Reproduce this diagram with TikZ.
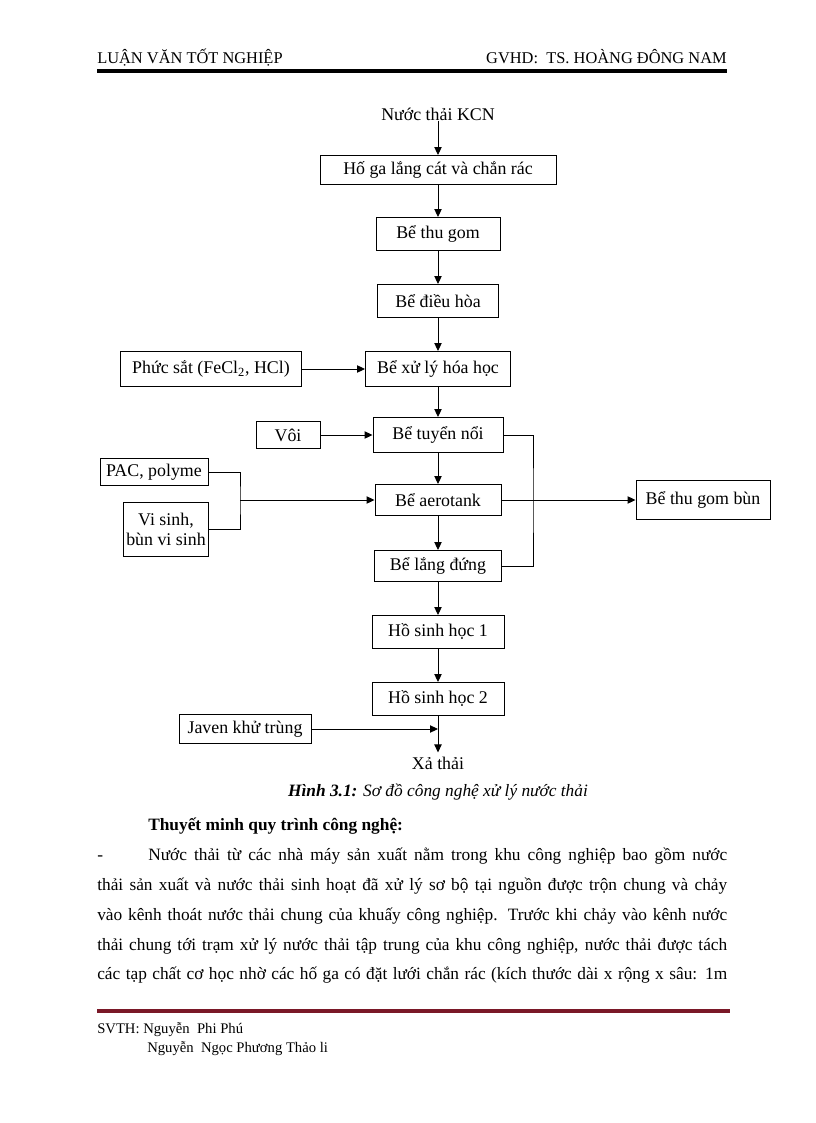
\documentclass[tikz,border=0pt]{standalone}
\usepackage{fontspec}
\setmainfont{Liberation Serif}
\usetikzlibrary{arrows.meta}

\definecolor{footred}{RGB}{122,24,40}

\begin{document}
\begin{tikzpicture}[x=0.75pt, y=-0.75pt,
    wh/.style 2 args={minimum width=#1*0.75pt, minimum height=#2*0.75pt},
    box/.style={draw, line width=0.7pt, inner sep=2pt, align=center,
        font=\fontsize{13.4}{15}\selectfont},
    txt/.style={inner sep=0pt, font=\fontsize{13.4}{15}\selectfont},
    body/.style={anchor=base west, inner sep=0pt, font=\fontsize{13}{15}\selectfont},
    flow/.style={line width=0.7pt, -{Triangle[length=6pt, width=5.5pt]}},
    link/.style={line width=0.7pt}]
    \useasboundingbox (0,0) rectangle (816,1123);

    % header
    \node [anchor=base west, inner sep=0pt, font=\fontsize{12.3}{14}\selectfont] (luanvan) at (97,64) {LUẬN VĂN TỐT NGHIỆP};
    \node [anchor=base east, inner sep=0pt, font=\fontsize{12.3}{14}\selectfont] (gvhd) at (727,64) {GVHD:\ \ TS. HOÀNG ĐÔNG NAM};
    \draw [line width=3pt] (97,71) -- (727,71);

    % main line
    \node [txt] (nguon) at (438,114) {Nước thải KCN};
    \node [box, wh={236}{29}] (hoga) at (438,170) {Hố ga lắng cát và chắn rác};
    \node [box, wh={124}{33}] (thugom) at (438,234) {Bể thu gom};
    \node [box, wh={121}{33}] (dieuhoa) at (438,301) {Bể điều hòa};
    \node [box, wh={145}{35}] (hoahoc) at (438,369) {Bể xử lý hóa học};
    \node [box, wh={130}{35}] (tuyennoi) at (438,435) {Bể tuyển nổi};
    \node [box, wh={126}{31}] (aerotank) at (438,500) {Bể aerotank};
    \node [box, wh={127}{31}] (langdung) at (438,566) {Bể lắng đứng};
    \node [box, wh={132}{33}] (hosh1) at (438,632) {Hồ sinh học 1};
    \node [box, wh={132}{33}] (hosh2) at (438,699) {Hồ sinh học 2};
    \node [txt, inner sep=3pt] (xathai) at (438,763) {Xả thải};

    % side inputs
    \node [box, wh={181}{35}] (phucsat) at (211,369) {Phức sắt (FeCl\textsubscript{2}, HCl)};
    \node [box, wh={64}{27}] (voi) at (288,435) {Vôi};
    \node [box, wh={108}{27}] (pac) at (154,472) {PAC, polyme};
    \node [box, wh={84}{54}] (visinh) at (166,529) {Vi sinh,\\bùn vi sinh};
    \node [box, wh={132}{29}] (javen) at (245,729) {Javen khử trùng};
    \node [box, wh={134}{39}] (thugombun) at (703,500) {Bể thu gom bùn};

    \coordinate (tron) at (240,500);
    \coordinate (bun) at (533,500);
    \coordinate (khutrung) at (438,729);

    \draw [flow] (nguon) -- (hoga);
    \draw [flow] (hoga) -- (thugom);
    \draw [flow] (thugom) -- (dieuhoa);
    \draw [flow] (dieuhoa) -- (hoahoc);
    \draw [flow] (hoahoc) -- (tuyennoi);
    \draw [flow] (tuyennoi) -- (aerotank);
    \draw [flow] (aerotank) -- (langdung);
    \draw [flow] (langdung) -- (hosh1);
    \draw [flow] (hosh1) -- (hosh2);
    \draw [flow] (hosh2) -- (xathai);
    \draw [flow] (phucsat) -- (hoahoc);
    \draw [flow] (voi) -- (tuyennoi);
    \draw [link] (pac.east) -| (tron) |- (visinh.east);
    \draw [flow] (tron) -- (aerotank);
    \draw [link] (tuyennoi.east) -| (bun) |- (langdung.east);
    \draw [flow] (aerotank) -- (thugombun);
    \draw [flow] (javen) -- (khutrung);

    % caption and text
    \node [txt, font=\fontsize{13}{15}\selectfont, anchor=base] (hinh) at (438,796) {\textbf{\textit{Hình 3.1:}} \textit{Sơ đồ công nghệ xử lý nước thải}};
    \node [body, font=\bfseries\fontsize{13}{15}\selectfont] (thuyetminh) at (148,830) {Thuyết minh quy trình công nghệ:};
    \node [body] (dong1) at (97,860) {\hbox to 472.5pt{\makebox[38.25pt][l]{-}Nước thải từ các nhà máy sản xuất nằm trong khu công nghiệp bao gồm nước}};
    \node [body] (dong2) at (97,890) {\hbox to 472.5pt{thải sản xuất và nước thải sinh hoạt đã xử lý sơ bộ tại nguồn được trộn chung và chảy}};
    \node [body] (dong3) at (97,920) {\hbox to 472.5pt{vào kênh thoát nước thải chung của khuấy công nghiệp. Trước khi chảy vào kênh nước}};
    \node [body] (dong4) at (97,950) {\hbox to 472.5pt{thải chung tới trạm xử lý nước thải tập trung của khu công nghiệp, nước thải được tách}};
    \node [body] (dong5) at (97,979) {\hbox to 472.5pt{các tạp chất cơ học nhờ các hố ga có đặt lưới chắn rác (kích thước dài x rộng x sâu: 1m}};

    % footer
    \draw [footred, line width=3pt] (97,1011) -- (730,1011);
    \node [body, font=\fontsize{11}{13}\selectfont] (svth) at (97,1033) {SVTH: Nguyễn\ \ Phi Phú};
    \node [body, font=\fontsize{11}{13}\selectfont] (svth2) at (147,1052) {Nguyễn\ \ Ngọc Phương Thảo li};
\end{tikzpicture}
\end{document}
